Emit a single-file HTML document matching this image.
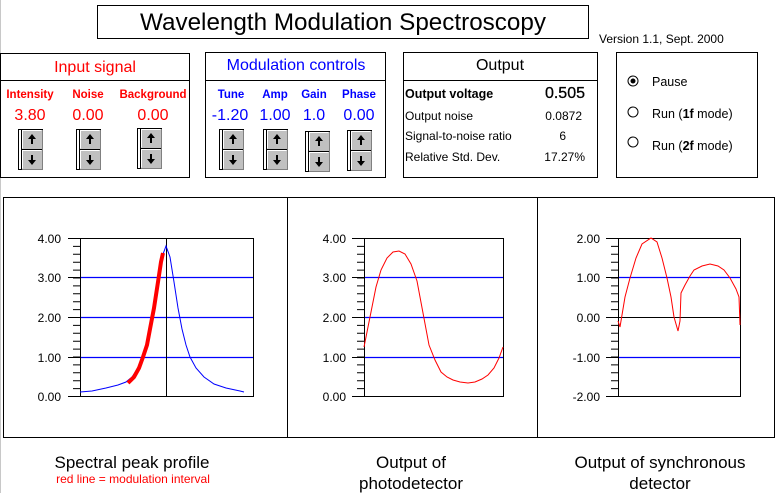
<!DOCTYPE html>
<html><head><meta charset="utf-8"><style>
html,body{margin:0;padding:0;background:#fff;}
svg{display:block;font-family:"Liberation Sans",sans-serif;}
</style></head><body>
<svg width="776" height="493" viewBox="0 0 776 493" xmlns="http://www.w3.org/2000/svg">
<defs>
<g id="spin">
<rect x="0.5" y="0.5" width="24" height="40" fill="#fff" stroke="#000"/>
<line x1="3.5" y1="0" x2="3.5" y2="41" stroke="#000"/>
<rect x="4" y="1" width="20" height="19" fill="#c0c0c0"/>
<rect x="4" y="21" width="20" height="19" fill="#c0c0c0"/>
<path d="M4.5 19.5V1.5H23.5" stroke="#fff" fill="none"/>
<path d="M4.5 39.5V21.5H23.5" stroke="#fff" fill="none"/>
<path d="M4 20.5H24.5V1" stroke="#808080" fill="none"/>
<line x1="4" y1="20.5" x2="24" y2="20.5" stroke="#000"/>
<path d="M4 40.5H24.5V21" stroke="#808080" fill="none"/>
<path d="M14 5l-4 5h3v5h2v-5h3z" fill="#000"/>
<path d="M14 36l-4-5h3v-5h2v5h3z" fill="#000"/>
</g>
</defs>
<line x1="0.5" y1="0" x2="0.5" y2="493" stroke="#c8c8c8"/>
<!-- title -->
<rect x="97.5" y="5.5" width="491" height="33" fill="#fff" stroke="#000"/>
<text x="343" y="30" font-size="24" text-anchor="middle" textLength="406" lengthAdjust="spacingAndGlyphs">Wavelength Modulation Spectroscopy</text>
<text x="599" y="43" font-size="12">Version 1.1, Sept. 2000</text>

<!-- input box -->
<rect x="0.5" y="53.5" width="189" height="124" fill="none" stroke="#000"/>
<line x1="0" y1="80.5" x2="190" y2="80.5" stroke="#000"/>
<text x="95" y="72" font-size="16" fill="#f00" text-anchor="middle">Input signal</text>
<g font-size="11.5" font-weight="bold" fill="#f00" text-anchor="middle">
<text x="30" y="98">Intensity</text><text x="88" y="98">Noise</text><text x="153" y="98">Background</text></g>
<g font-size="16" fill="#f00" text-anchor="middle">
<text x="30" y="120">3.80</text><text x="88" y="120">0.00</text><text x="153" y="120">0.00</text></g>
<use href="#spin" x="18" y="129"/><use href="#spin" x="76" y="129"/><use href="#spin" x="137" y="128"/>

<!-- modulation -->
<rect x="205.5" y="52.5" width="180" height="125" fill="none" stroke="#000"/>
<line x1="205" y1="80.5" x2="386" y2="80.5" stroke="#000"/>
<text x="296" y="70" font-size="16" fill="#00f" text-anchor="middle">Modulation controls</text>
<g font-size="11.5" font-weight="bold" fill="#00f" text-anchor="middle">
<text x="231" y="98">Tune</text><text x="275" y="98">Amp</text><text x="314" y="98">Gain</text><text x="359" y="98">Phase</text></g>
<g font-size="16" fill="#00f" text-anchor="middle">
<text x="230" y="120">-1.20</text><text x="275" y="120">1.00</text><text x="314" y="120">1.0</text><text x="359" y="120">0.00</text></g>
<use href="#spin" x="219" y="129"/><use href="#spin" x="263" y="129"/><use href="#spin" x="305" y="131"/><use href="#spin" x="347" y="130"/>

<!-- output -->
<rect x="403.5" y="52.5" width="194" height="125" fill="none" stroke="#000"/>
<line x1="403" y1="80.5" x2="598" y2="80.5" stroke="#000"/>
<text x="500" y="70" font-size="16" text-anchor="middle">Output</text>
<text x="405" y="98" font-size="12.5" font-weight="bold">Output voltage</text>
<text x="585" y="98" font-size="16" text-anchor="end" stroke="#000" stroke-width="0.3">0.505</text>
<g font-size="12">
<text x="405" y="120">Output noise</text><text x="582" y="120" text-anchor="end">0.0872</text>
<text x="405" y="140">Signal-to-noise ratio</text><text x="566" y="140" text-anchor="end">6</text>
<text x="405" y="161">Relative Std. Dev.</text><text x="585" y="161" text-anchor="end">17.27%</text>
</g>

<!-- radio -->
<rect x="616.5" y="52.5" width="141" height="125" fill="none" stroke="#000"/>
<circle cx="633" cy="81" r="5" fill="#fff" stroke="#000"/><circle cx="633" cy="81" r="2.5" fill="#000"/>
<circle cx="633" cy="112" r="5" fill="#fff" stroke="#000"/>
<circle cx="633" cy="142" r="5" fill="#fff" stroke="#000"/>
<g font-size="12.5">
<text x="652" y="86">Pause</text>
<text x="652" y="118">Run (<tspan font-weight="bold">1f</tspan> mode)</text>
<text x="652" y="150">Run (<tspan font-weight="bold">2f</tspan> mode)</text>
</g>

<!-- chart panel -->
<rect x="3.5" y="197.5" width="771" height="240" fill="none" stroke="#000"/>
<line x1="287.5" y1="197" x2="287.5" y2="438" stroke="#000"/>
<line x1="537.5" y1="197" x2="537.5" y2="438" stroke="#000"/>

<!-- plot 1 -->
<g stroke="#0000ff" stroke-width="1.3"><line x1="80" y1="277.5" x2="253" y2="277.5"/><line x1="80" y1="317.5" x2="253" y2="317.5"/><line x1="80" y1="357.5" x2="253" y2="357.5"/></g>
<rect x="80.5" y="238.5" width="173" height="158" fill="none" stroke="#000"/>
<line x1="166.5" y1="238" x2="166.5" y2="396" stroke="#000"/>
<line x1="76.5" y1="238" x2="76.5" y2="397" stroke="#000" stroke-width="7" stroke-dasharray="1 6.9"/>
<g stroke="#000"><line x1="68" y1="238.5" x2="80" y2="238.5"/><line x1="68" y1="277.5" x2="80" y2="277.5"/><line x1="68" y1="317.5" x2="80" y2="317.5"/><line x1="68" y1="357.5" x2="80" y2="357.5"/><line x1="68" y1="396.5" x2="80" y2="396.5"/></g>
<g font-size="12" text-anchor="end"><text x="61" y="243">4.00</text><text x="61" y="282">3.00</text><text x="61" y="322">2.00</text><text x="61" y="362">1.00</text><text x="61" y="401">0.00</text></g>
<polyline fill="none" stroke="#00f" points="80,392 92,391 106,388 118,385 126,382 132,377 138,368 142,357 146,345 150,329 154,308 158,282 162,257 166,246 170,257 174,282 178,308 182,329 186,345 190,357 196,368 204,377 214,384 226,388 240,391 244,392"/>
<polyline fill="none" stroke="#f00" stroke-width="4" points="128,383 134,377 139,368 143,357 147,345 150,329 154,308 158,282 161,262 163,253"/>

<!-- plot 2 -->
<g stroke="#0000ff" stroke-width="1.3"><line x1="364" y1="277.5" x2="503" y2="277.5"/><line x1="364" y1="317.5" x2="503" y2="317.5"/><line x1="364" y1="357.5" x2="503" y2="357.5"/></g>
<rect x="364.5" y="238.5" width="139" height="158" fill="none" stroke="#000"/>
<line x1="360.5" y1="238" x2="360.5" y2="397" stroke="#000" stroke-width="7" stroke-dasharray="1 6.9"/>
<g stroke="#000"><line x1="352" y1="238.5" x2="364" y2="238.5"/><line x1="352" y1="277.5" x2="364" y2="277.5"/><line x1="352" y1="317.5" x2="364" y2="317.5"/><line x1="352" y1="357.5" x2="364" y2="357.5"/><line x1="352" y1="396.5" x2="364" y2="396.5"/></g>
<g font-size="12" text-anchor="end"><text x="346" y="243">4.00</text><text x="346" y="282">3.00</text><text x="346" y="322">2.00</text><text x="346" y="362">1.00</text><text x="346" y="401">0.00</text></g>
<polyline fill="none" stroke="#f00" points="364,347 370,317 376,287 381,270 387,258 393,252 399,251 405,254 411,264 417,281 423,313 429,345 435,360 441,372 447,377 453,380 460,382 468,383 475,382 482,379 488,375 494,368 499,358 503,347"/>

<!-- plot 3 -->
<g stroke="#0000ff" stroke-width="1.3"><line x1="618" y1="277.5" x2="740" y2="277.5"/><line x1="618" y1="357.5" x2="740" y2="357.5"/></g>
<line x1="618" y1="317.5" x2="740" y2="317.5" stroke="#000"/>
<rect x="618.5" y="238.5" width="122" height="158" fill="none" stroke="#000"/>
<line x1="614.5" y1="238" x2="614.5" y2="397" stroke="#000" stroke-width="7" stroke-dasharray="1 6.9"/>
<g stroke="#000"><line x1="606" y1="238.5" x2="618" y2="238.5"/><line x1="606" y1="277.5" x2="618" y2="277.5"/><line x1="606" y1="317.5" x2="618" y2="317.5"/><line x1="606" y1="357.5" x2="618" y2="357.5"/><line x1="606" y1="396.5" x2="618" y2="396.5"/></g>
<g font-size="12" text-anchor="end"><text x="600" y="243">2.00</text><text x="600" y="282">1.00</text><text x="600" y="322">0.00</text><text x="600" y="362">-1.00</text><text x="600" y="401">-2.00</text></g>
<polyline fill="none" stroke="#f00" points="618,321 620,327 625,297 630,278 636,258 642,244 651,238 657,242 662,258 667,278 671,297 674,317 678,331 680,321 681,293 685,285 690,276 694,270 702,266 710,264 718,266 724,270 730,278 736,289 739,297 740,325"/>

<!-- captions -->
<g font-size="17" text-anchor="middle">
<text x="132" y="468">Spectral peak profile</text>
<text x="411" y="468">Output of</text><text x="411" y="489">photodetector</text>
<text x="660" y="468">Output of synchronous</text><text x="660" y="489">detector</text>
</g>
<text x="133" y="483" font-size="12" fill="#f00" text-anchor="middle">red line = modulation interval</text>
</svg>
</body></html>
